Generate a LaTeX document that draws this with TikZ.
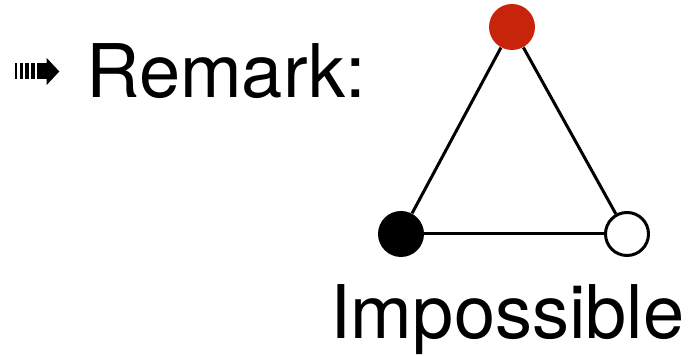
\documentclass[tikz,border=0pt]{standalone}
\usepackage{fontspec}
\setmainfont{TeX Gyre Heros}
\usetikzlibrary{positioning}
\definecolor{vertexred}{RGB}{200,36,12}

\begin{document}
\begin{tikzpicture}[
	x=0.5pt, y=0.5pt,
	font=\fontsize{37}{44}\selectfont,
	% Define styles
	vertex/.style={circle, minimum size=23pt, inner sep=0pt},
	redvertex/.style={vertex, fill=vertexred},
	blackvertex/.style={vertex, fill=black},
	whitevertex/.style={vertex, draw=black, line width=1.5pt, fill=white, minimum size=21.5pt},
	edge/.style={draw=black, line width=1.5pt},
	bigtext/.style={inner sep=0pt, anchor=base west}
	]
	\useasboundingbox (0,0) rectangle (697,356);
	
	% 1. Bullet
	\foreach \xa/\xb in {15/17.3, 20/22.7, 25/28.7, 30.7/35}
		\fill (\xa,277) rectangle (\xb,293);
	\fill (36.7,277) rectangle (47,293);
	\fill (46.7,271) -- (59.3,284.5) -- (46.7,298) -- cycle;
	
	% 2. Remark
	\node[bigtext] (remark) at (86,258) {Remark:};
	
	% 3. Triangle
	\node[redvertex] (top) at (512,329) {};
	\node[blackvertex] (left) at (401,122) {};
	\node[whitevertex] (right) at (627,122) {};
	
	\draw[edge] (top) -- (left);
	\draw[edge] (top) -- (right);
	\draw[edge] (left) -- (right);
	
	% 4. Caption
	\node[bigtext] (caption) at (330,17) {Impossible};
\end{tikzpicture}
\end{document}
